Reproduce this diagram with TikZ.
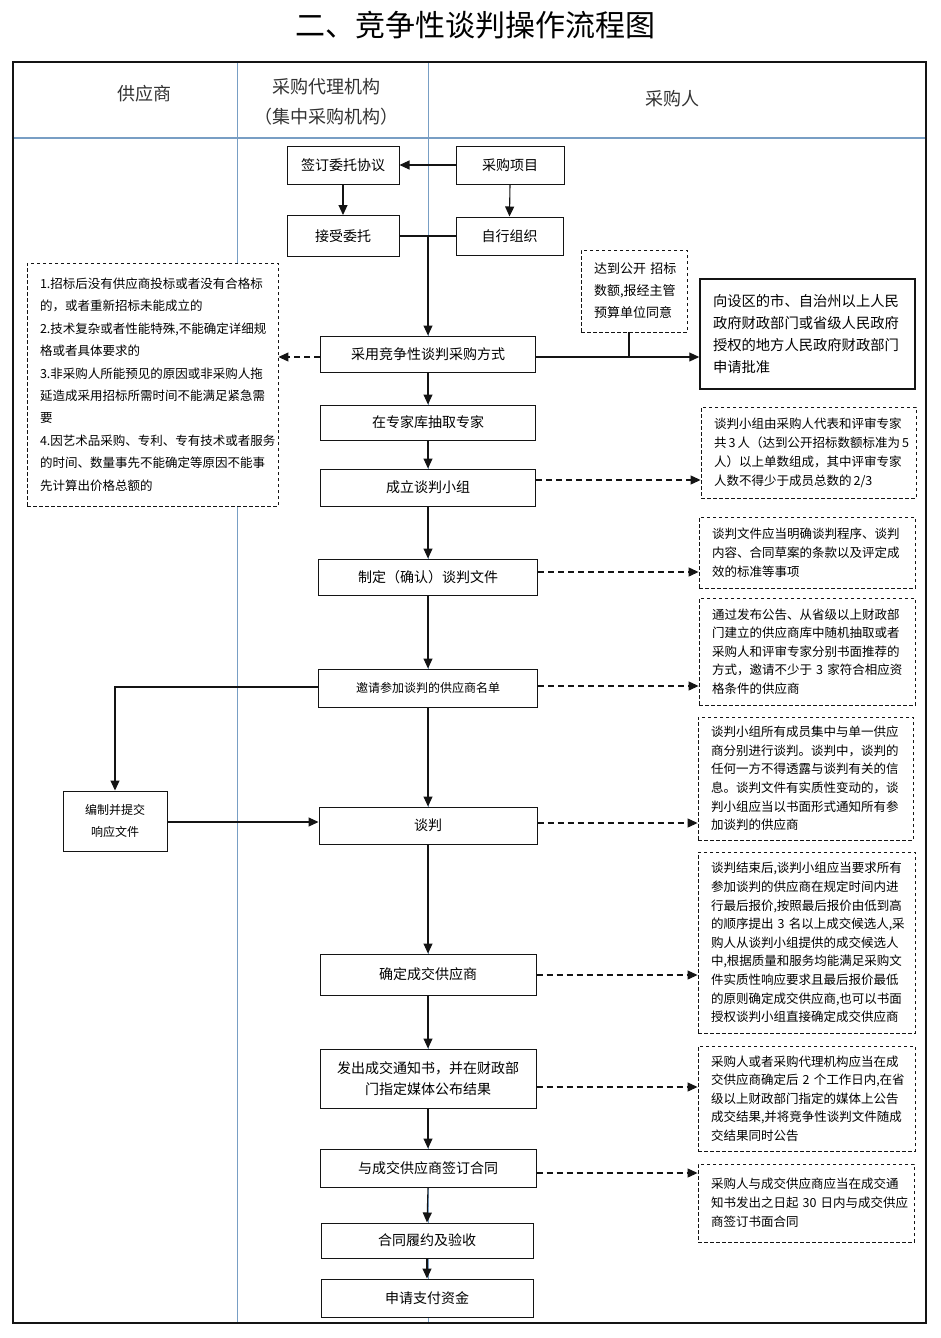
\documentclass[tikz,border=0pt]{standalone}
\usepackage{fontspec}
\setmainfont{Noto Sans CJK SC}
\usetikzlibrary{arrows.meta}
\definecolor{lanec}{RGB}{120,158,196}
\definecolor{inkc}{RGB}{20,20,20}
\begin{document}
\begin{tikzpicture}[x=1pt,y=-1pt,
  box/.style={draw=inkc, fill=white, line width=1pt, inner sep=0pt, align=center, font=\fontsize{14}{21}\selectfont},
  notebox/.style={draw=inkc, fill=white, line width=0.9pt, dash pattern=on 3.5pt off 2.5pt, inner xsep=13pt, inner ysep=0pt, align=left},
  solidnote/.style={draw=inkc, fill=white, line width=1.5pt, inner xsep=13pt, inner ysep=0pt, align=left},
  arr/.style={draw=inkc, line width=1.1pt, -{Triangle[length=10pt,width=9pt]}},
  darr/.style={arr, dash pattern=on 6pt off 4pt},
  plain/.style={draw=inkc, line width=1.1pt},
  lane/.style={draw=lanec, line width=0.9pt},
  hdr/.style={text=black!80, align=center, font=\fontsize{18}{30}\selectfont},
  nt/.style={font=\fontsize{12.5}{18.6}\selectfont},
]
\useasboundingbox (0,0) rectangle (940,1338);
\fill[white] (0,0) rectangle (940,1338);

% title
\node (title) at (475,25) {\fontsize{30}{30}\selectfont 二、竞争性谈判操作流程图};

% lanes and frame
\draw[lane] (237,62) -- (237,1323);
\draw[lane] (428,62) -- (428,1323);
\draw[draw=lanec, line width=1.6pt] (13,138) -- (926,138);
\draw[line width=2.2pt, draw=inkc] (13,62) rectangle (926,1323);

% headers
\node[hdr] (H1) at (144,94) {供应商};
\node[hdr] (H2) at (326,102) {采购代理机构\\（集中采购机构）};
\node[hdr] (H3) at (672,99) {采购人};

% main boxes
\node[box, minimum width=112pt, minimum height=38pt] (B1) at (343,165) {签订委托协议};
\node[box, minimum width=108pt, minimum height=38pt] (B2) at (510,165) {采购项目};
\node[box, minimum width=112pt, minimum height=41pt] (B3) at (343,236) {接受委托};
\node[box, minimum width=107pt, minimum height=38pt] (B4) at (509.5,236) {自行组织};
\coordinate (J) at (428,236);
\node[box, minimum width=215pt, minimum height=36pt] (B5) at (428,354) {采用竞争性谈判采购方式};
\node[box, minimum width=215pt, minimum height=35pt] (B6) at (428,422.5) {在专家库抽取专家};
\node[box, minimum width=215pt, minimum height=37pt] (B7) at (428,487.5) {成立谈判小组};
\node[box, minimum width=219pt, minimum height=36pt] (B8) at (428,577) {制定（确认）谈判文件};
\node[box, minimum width=219pt, minimum height=38pt, font=\fontsize{12}{18}\selectfont] (B9) at (428,688) {邀请参加谈判的供应商名单};
\node[box, minimum width=218pt, minimum height=37pt] (B10) at (428,825.5) {谈判};
\node[box, minimum width=216pt, minimum height=41pt] (B11) at (428,974.5) {确定成交供应商};
\node[box, minimum width=216pt, minimum height=59pt] (B12) at (428,1078.5) {发出成交通知书，并在财政部\\门指定媒体公布结果};
\node[box, minimum width=216pt, minimum height=38pt] (B13) at (428,1168) {与成交供应商签订合同};
\node[box, minimum width=212pt, minimum height=35pt] (B14) at (427,1240.5) {合同履约及验收};
\node[box, minimum width=212pt, minimum height=38pt] (B15) at (427,1298) {申请支付资金};

% supplier box
\node[box, minimum width=104pt, minimum height=60pt, font=\fontsize{12}{22}\selectfont] (S1) at (115,821) {编制并提交\\响应文件};

% left condition box
\node[notebox, minimum height=243pt, text width=225pt, font=\fontsize{12.5}{22.4}\selectfont] (L) at (152.5,384.5) {%
1.招标后没有供应商投标或者没有合格标\\
的，或者重新招标未能成立的\\
2.技术复杂或者性能特殊,不能确定详细规\\
格或者具体要求的\\
3.非采购人所能预见的原因或非采购人拖\\
延造成采用招标所需时间不能满足紧急需\\
要\\
4.因艺术品采购、专利、专有技术或者服务\\
的时间、数量事先不能确定等原因不能事\\
先计算出价格总额的};

% approval condition and target
\node[notebox, minimum height=82pt, text width=80pt, font=\fontsize{13}{22}\selectfont] (C1) at (634,291) {达到公开~招标\\数额,报经主管\\预算单位同意};
\node[solidnote, minimum height=110pt, text width=189pt, font=\fontsize{14.3}{22.3}\selectfont] (G1) at (807.5,334) {向设区的市、自治州以上人民\\政府财政部门或省级人民政府\\授权的地方人民政府财政部门\\申请批准};

% right notes
\node[notebox, nt, minimum height=91pt, text width=189pt, font=\fontsize{12.5}{19}\selectfont] (R1) at (808.5,452.5) {谈判小组由采购人代表和评审专家\\共\,3\,人（达到公开招标数额标准为\,5\\人）以上单数组成，其中评审专家\\人数不得少于成员总数的\,2/3};
\node[notebox, nt, minimum height=71pt, text width=190pt, font=\fontsize{12.5}{19}\selectfont] (R2) at (807,552.5) {谈判文件应当明确谈判程序、谈判\\内容、合同草案的条款以及评定成\\效的标准等事项};
\node[notebox, nt, minimum height=107pt, text width=190pt] (R3) at (807,651.5) {通过发布公告、从省级以上财政部\\门建立的供应商库中随机抽取或者\\采购人和评审专家分别书面推荐的\\方式，邀请不少于~3~家符合相应资\\格条件的供应商};
\node[notebox, nt, minimum height=123pt, text width=189pt] (R4) at (805.5,778.5) {谈判小组所有成员集中与单一供应\\商分别进行谈判。谈判中，谈判的\\任何一方不得透露与谈判有关的信\\息。谈判文件有实质性变动的，谈\\判小组应当以书面形式通知所有参\\加谈判的供应商};
\node[notebox, nt, minimum height=181pt, text width=191pt] (R5) at (806.5,942.5) {谈判结束后,谈判小组应当要求所有\\参加谈判的供应商在规定时间内进\\行最后报价,按照最后报价由低到高\\的顺序提出~3~名以上成交候选人,采\\购人从谈判小组提供的成交候选人\\中,根据质量和服务均能满足采购文\\件实质性响应要求且最后报价最低\\的原则确定成交供应商,也可以书面\\授权谈判小组直接确定成交供应商};
\node[notebox, nt, minimum height=105pt, text width=191pt] (R6) at (806.5,1098.5) {采购人或者采购代理机构应当在成\\交供应商确定后~2~个工作日内,在省\\级以上财政部门指定的媒体上公告\\成交结果,并将竞争性谈判文件随成\\交结果同时公告};
\node[notebox, nt, minimum height=78pt, text width=190pt, font=\fontsize{12.5}{19}\selectfont] (R7) at (806,1203) {采购人与成交供应商应当在成交通\\知书发出之日起~30~日内与成交供应\\商签订书面合同};

% top connectors
\draw[arr] (B2.west) -- (B1.east);
\draw[arr] (B1.south) -- (B3.north);
\draw[arr] (B2.south) -- (B4.north);
\draw[plain] (B3.east) -- (B4.west);
\draw[arr] (J) -- (B5.north);

% main flow
\draw[arr] (B5.south) -- (B6.north);
\draw[arr] (B6.south) -- (B7.north);
\draw[arr] (B7.south) -- (B8.north);
\draw[arr] (B8.south) -- (B9.north);
\draw[arr] (B9.south) -- (B10.north);
\draw[arr] (B10.south) -- (B11.north);
\draw[arr] (B11.south) -- (B12.north);
\draw[arr] (B12.south) -- (B13.north);
\draw[arr] (B13.south) -- (B14.north);
\draw[arr] (B14.south) -- (B15.north);

% side connectors at B5
\draw[darr] (B5.west |- 0,357) -- (L.east |- 0,357);
\draw[arr] (B5.east |- 0,357) -- (G1.west |- 0,357);
\draw[plain] ([xshift=-5pt]C1.south) -- ([xshift=-5pt]C1.south |- 0,357);

% supplier loop
\draw[arr] (B9.west |- 0,687) -| (S1.north);
\draw[arr] (S1.east |- 0,822) -- (B10.west |- 0,822);

% dashed notes
\draw[darr] (B7.east |- 0,480) -- (R1.west |- 0,480);
\draw[darr] (B8.east |- 0,572) -- (R2.west |- 0,572);
\draw[darr] (B9.east |- 0,686) -- (R3.west |- 0,686);
\draw[darr] (B10.east |- 0,823) -- (R4.west |- 0,823);
\draw[darr] (B11.east |- 0,975) -- (R5.west |- 0,975);
\draw[darr] (B12.east |- 0,1087) -- (R6.west |- 0,1087);
\draw[darr] (B13.east |- 0,1173) -- (R7.west |- 0,1173);
\end{tikzpicture}
\end{document}
